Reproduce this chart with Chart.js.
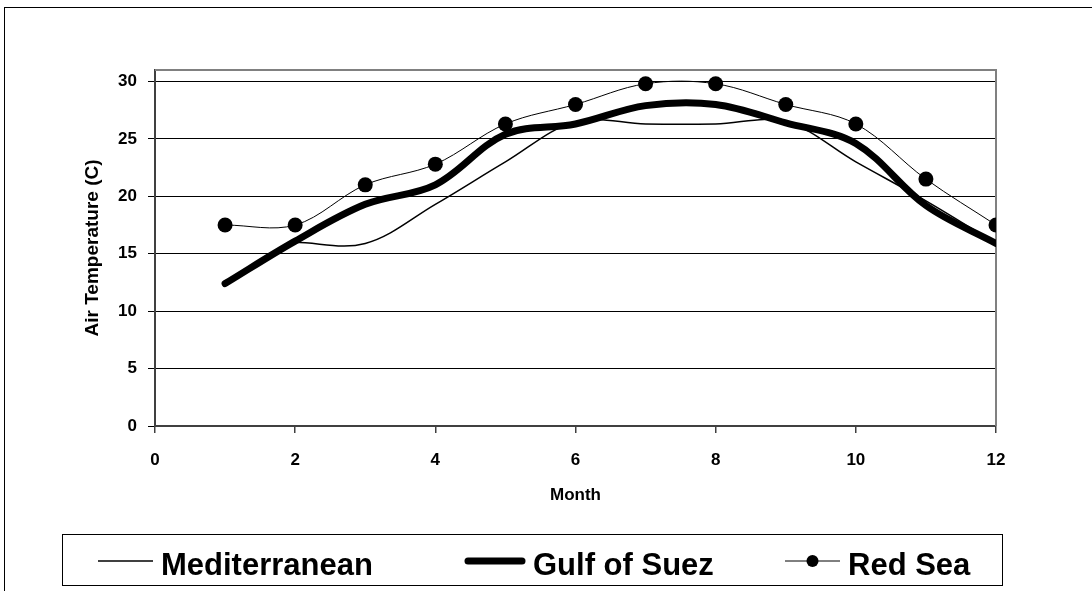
<!DOCTYPE html>
<html>
<head>
<meta charset="utf-8">
<script src="https://cdn.jsdelivr.net/npm/chart.js@4.4.0/dist/chart.umd.min.js"></script>
<style>
  html, body { margin: 0; padding: 0; background: #fff; }
</style>
</head>
<body>
<canvas id="grafico" width="1092" height="591"></canvas>
<script>
// Datos (temperatura del aire por mes)
const meses = [1, 2, 3, 4, 5, 6, 7, 8, 9, 10, 11, 12];
const mediterraneo = [null, 16.0, 15.9, 19.3, 23.0, 26.5, 26.3, 26.3, 26.5, 23.0, 19.6, 15.9];
const golfoSuez = [12.4, 16.1, 19.3, 21.0, 25.4, 26.3, 27.9, 28.0, 26.4, 24.6, 19.2, 15.9];
const marRojo = [17.5, 17.5, 21.0, 22.8, 26.3, 28.0, 29.8, 29.8, 28.0, 26.3, 21.5, 17.5];
const nombres = ['Mediterranean', 'Gulf of Suez', 'Red Sea'];
const ticksX = [0, 2, 4, 6, 8, 10, 12];
const ticksY = [0, 5, 10, 15, 20, 25, 30];

const fuente = '"Liberation Sans", Arial, sans-serif';

let puntos = (valores) => meses.map((m, i) => ({ x: m, y: valores[i] }));

// Marco del area de trazado y marco exterior
const marcos = {
  id: 'marcos',
  beforeDatasetsDraw(chart) {
    const { ctx, chartArea: a } = chart;
    ctx.save();
    ctx.strokeStyle = '#808080';
    ctx.lineWidth = 2;
    ctx.beginPath();
    ctx.moveTo(a.left, a.top);
    ctx.lineTo(a.right, a.top);
    ctx.lineTo(a.right, a.bottom);
    ctx.stroke();
    ctx.restore();
  },
  afterDraw(chart) {
    const ctx = chart.ctx;
    ctx.save();
    ctx.strokeStyle = '#000';
    ctx.lineWidth = 1;
    ctx.strokeRect(4.5, 7.5, 1200, 700);
    ctx.restore();
  }
};

// Leyenda dibujada a mano para imitar la de Excel
const leyenda = {
  id: 'leyenda',
  afterDraw(chart) {
    const ctx = chart.ctx;
    const inicio = [98, 465, 785];
    const largo = [55, 60, 55];
    const yLinea = 561;
    ctx.save();
    ctx.strokeStyle = '#000';
    ctx.lineWidth = 1;
    ctx.strokeRect(62.5, 534.5, 940, 51);
    chart.data.datasets.forEach((ds, i) => {
      ctx.strokeStyle = ds.borderColor;
      ctx.lineWidth = ds.borderWidth;
      ctx.lineCap = i === 1 ? 'round' : 'butt';
      ctx.beginPath();
      ctx.moveTo(inicio[i] + (i === 1 ? 3 : 0), yLinea);
      ctx.lineTo(inicio[i] + largo[i] - (i === 1 ? 3 : 0), yLinea);
      ctx.stroke();
      if (ds.pointRadius > 0) {
        ctx.fillStyle = ds.pointBackgroundColor;
        ctx.beginPath();
        ctx.arc(inicio[i] + largo[i] / 2, yLinea, 6, 0, Math.PI * 2);
        ctx.fill();
      }
      ctx.fillStyle = '#000';
      ctx.font = 'bold 31px ' + fuente;
      ctx.textBaseline = 'alphabetic';
      ctx.fillText(ds.label, inicio[i] + largo[i] + 8, 575);
    });
    ctx.restore();
  }
};

let config = {
  type: 'line',
  data: {
    datasets: [
      {
        label: nombres[0],
        data: puntos(mediterraneo),
        borderColor: '#000',
        borderWidth: 1.5,
        pointRadius: 0,
        tension: 0.35
      },
      {
        label: nombres[1],
        data: puntos(golfoSuez),
        borderColor: '#000',
        borderWidth: 7,
        borderCapStyle: 'round',
        borderJoinStyle: 'round',
        pointRadius: 0,
        tension: 0.35
      },
      {
        label: nombres[2],
        data: puntos(marRojo),
        borderColor: '#000',
        borderWidth: 1,
        pointRadius: 7.5,
        pointBorderWidth: 0,
        pointBackgroundColor: '#000',
        tension: 0.35
      }
    ]
  },
  options: {
    responsive: false,
    animation: false,
    devicePixelRatio: 1,
    layout: { padding: { left: 81, right: 96, top: 70, bottom: 85 } },
    plugins: {
      legend: { display: false },
      tooltip: { enabled: false }
    },
    scales: {
      x: {
        type: 'linear',
        min: 0,
        max: 12,
        afterFit: (s) => { s.height = 80; },
        afterBuildTicks: (s) => { s.ticks = ticksX.map(v => ({ value: v })); },
        border: { color: '#404040', width: 2 },
        grid: { drawOnChartArea: false, tickLength: 7, color: '#404040', lineWidth: 1.5 },
        ticks: { color: '#000', font: { family: fuente, size: 17, weight: 'bold' }, padding: 17, maxRotation: 0 },
        title: { display: true, text: 'Month', color: '#000', font: { family: fuente, size: 17, weight: 'bold' }, padding: 0 }
      },
      y: {
        min: 0,
        max: 31,
        afterFit: (s) => { s.width = 74; },
        afterBuildTicks: (s) => { s.ticks = ticksY.map(v => ({ value: v })); },
        border: { color: '#404040', width: 2 },
        grid: { color: '#000', lineWidth: 1, tickLength: 7 },
        ticks: { color: '#000', font: { family: fuente, size: 17, weight: 'bold' }, padding: 11 },
        title: { display: true, text: 'Air Temperature (C)', color: '#000', font: { family: fuente, size: 19, weight: 'bold' }, padding: 0 }
      }
    }
  },
  plugins: [marcos, leyenda]
};

let grafico = new Chart(document.getElementById('grafico'), config);
</script>
</body>
</html>
